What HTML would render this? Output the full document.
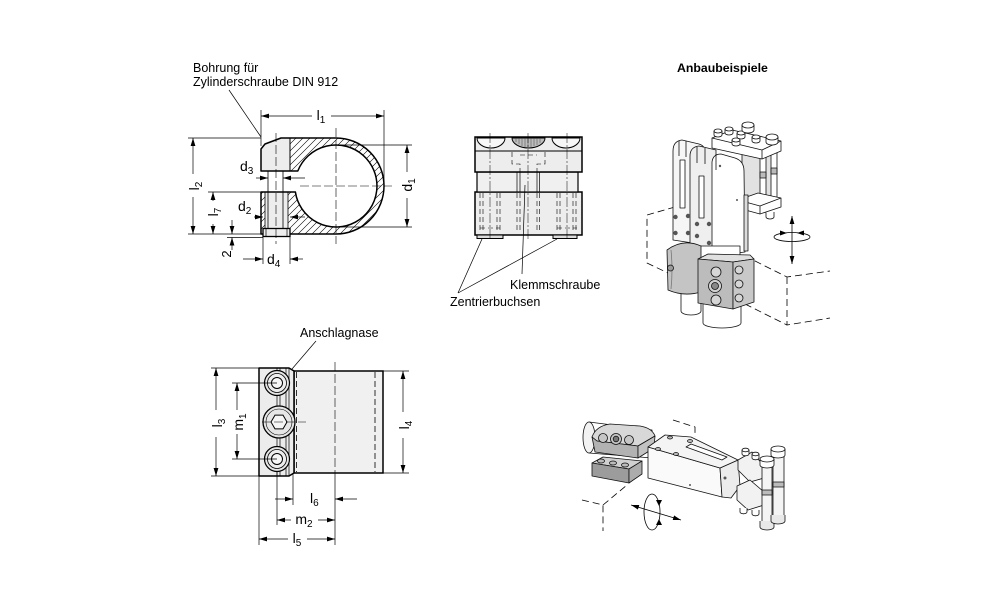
<!DOCTYPE html>
<html><head><meta charset="utf-8"><style>
html,body{margin:0;padding:0;background:#fff;}
svg{display:block;}
text{font-family:"Liberation Sans",Arial,sans-serif;fill:#000;}
</style></head><body>
<svg width="1000" height="611" viewBox="0 0 1000 611" xmlns="http://www.w3.org/2000/svg">
<defs>
<pattern id="hatch" patternUnits="userSpaceOnUse" width="7" height="7">
<path d="M0,7 L7,0 M-2,2 L2,-2 M5,9 L9,5" stroke="#000" stroke-width="0.6"/>
</pattern>
<marker id="ar" viewBox="0 0 10 6" refX="10" refY="3" markerWidth="8" markerHeight="4.8" markerUnits="userSpaceOnUse" orient="auto-start-reverse">
<path d="M0,0 L10,3 L0,6 z" fill="#000"/>
</marker>
</defs>
<rect width="1000" height="611" fill="#fff"/>

<!-- ================= Drawing 1 ================= -->
<text x="193" y="72" font-size="12.5">Bohrung für</text>
<text x="193" y="86" font-size="12.5">Zylinderschraube DIN 912</text>
<line x1="229" y1="90" x2="261" y2="137" stroke="#000" stroke-width="0.7"/>

<path d="M261,149 L265,144 L281,138 L336,138 A48,48 0 0 1 336,234 L261,234 L261,192 L295.4,192 A41,41 0 1 0 297.8,171 L261,171 Z" fill="url(#hatch)"/>
<path d="M261,149 L265,144 L281,138 L290,138 L290,171 L261,171 Z" fill="#ededed"/>
<rect x="265" y="192" width="23" height="37" fill="#ededed"/>
<path d="M261,149 L265,144 L281,138 L336,138 A48,48 0 0 1 336,234 L261,234 L261,192 L295.4,192 A41,41 0 1 0 297.8,171 L261,171 Z" fill="none" stroke="#000" stroke-width="1.5" stroke-linejoin="round"/>
<g stroke="#000" stroke-width="0.8">
<line x1="290" y1="138" x2="290" y2="171" stroke-width="1"/>
<line x1="268" y1="171" x2="268" y2="229"/>
<line x1="283" y1="171" x2="283" y2="229"/>
<line x1="265" y1="192" x2="265" y2="229"/>
<line x1="288" y1="192" x2="288" y2="229"/>
</g>
<rect x="263" y="228.5" width="27" height="8" fill="#ededed" stroke="#000" stroke-width="1.3"/>
<g stroke="#000" stroke-width="0.7">
<line x1="266" y1="229" x2="266" y2="236"/>
<line x1="287" y1="229" x2="287" y2="236"/>
</g>
<g stroke="#000" stroke-width="0.6" stroke-dasharray="9,3" fill="none">
<line x1="276" y1="133" x2="276" y2="244"/>
<line x1="336" y1="128" x2="336" y2="244"/>
<line x1="300" y1="186" x2="392" y2="186"/>
</g>
<g stroke="#000" stroke-width="0.7" fill="none">
<line x1="261" y1="110" x2="261" y2="146"/>
<line x1="384" y1="110" x2="384" y2="186"/>
<line x1="261" y1="116" x2="312" y2="116" marker-start="url(#ar)"/>
<line x1="331" y1="116" x2="384" y2="116" marker-end="url(#ar)"/>
<line x1="188" y1="138" x2="261" y2="138"/>
<line x1="188" y1="234" x2="261" y2="234"/>
<line x1="208" y1="192" x2="261" y2="192"/>
<line x1="227" y1="237.5" x2="263" y2="237.5"/>
<line x1="193" y1="138" x2="193" y2="174" marker-start="url(#ar)"/>
<line x1="193" y1="197" x2="193" y2="234" marker-end="url(#ar)"/>
<line x1="213" y1="192" x2="213" y2="201" marker-start="url(#ar)"/>
<line x1="213" y1="224" x2="213" y2="234" marker-end="url(#ar)"/>
<line x1="232" y1="220" x2="232" y2="234" marker-end="url(#ar)"/>
<line x1="232" y1="250" x2="232" y2="237.5" marker-end="url(#ar)"/>
<line x1="263" y1="237" x2="263" y2="264"/>
<line x1="290" y1="237" x2="290" y2="264"/>
<line x1="243" y1="259" x2="263" y2="259" marker-end="url(#ar)"/>
<line x1="303" y1="259" x2="290" y2="259" marker-end="url(#ar)"/>
<line x1="256" y1="178" x2="268" y2="178" marker-end="url(#ar)"/>
<line x1="305" y1="178" x2="283" y2="178" marker-end="url(#ar)"/>
<line x1="254" y1="217" x2="263" y2="217" marker-end="url(#ar)"/>
<line x1="305" y1="217" x2="290" y2="217" marker-end="url(#ar)"/>
<line x1="338" y1="145" x2="412" y2="145"/>
<line x1="338" y1="227" x2="412" y2="227"/>
<line x1="407" y1="145" x2="407" y2="172" marker-start="url(#ar)"/>
<line x1="407" y1="198" x2="407" y2="227" marker-end="url(#ar)"/>
</g>
<text x="321" y="120" font-size="14" text-anchor="middle">l<tspan dy="3" font-size="10">1</tspan></text>
<text transform="translate(199,186) rotate(-90)" font-size="14" text-anchor="middle">l<tspan dy="3" font-size="10">2</tspan></text>
<text transform="translate(218,212) rotate(-90)" font-size="14" text-anchor="middle">l<tspan dy="3" font-size="10">7</tspan></text>
<text transform="translate(231,254) rotate(-90)" font-size="13" text-anchor="middle">2</text>
<text transform="translate(412,185) rotate(-90)" font-size="14" text-anchor="middle">d<tspan dy="3" font-size="10">1</tspan></text>
<text x="240" y="171" font-size="14">d<tspan dy="3" font-size="10">3</tspan></text>
<text x="238" y="211" font-size="14">d<tspan dy="3" font-size="10">2</tspan></text>
<text x="267" y="264" font-size="14">d<tspan dy="3" font-size="10">4</tspan></text>

<!-- ================= Drawing 2 ================= -->
<text x="300" y="337" font-size="12.5">Anschlagnase</text>
<line x1="316" y1="341" x2="292" y2="369" stroke="#000" stroke-width="0.7"/>
<rect x="294" y="371" width="89" height="102" fill="#f0f0f0" stroke="#000" stroke-width="1.5"/>
<path d="M259,368 L289,368 L294,371 L294,473 L289,476 L259,476 Z" fill="#ececec" stroke="#000" stroke-width="1.5" stroke-linejoin="round"/>
<g stroke="#000" stroke-width="0.7" fill="none">
<line x1="286" y1="368" x2="286" y2="476"/>
<line x1="289" y1="368" x2="289" y2="476"/>
<line x1="277" y1="368" x2="277" y2="476"/>
<line x1="280" y1="368" x2="280" y2="476"/>
</g>
<g stroke="#000" stroke-width="0.8" stroke-dasharray="6,3" fill="none">
<line x1="296.5" y1="372" x2="296.5" y2="472"/>
<line x1="375" y1="372" x2="375" y2="472"/>
</g>
<g stroke="#000">
<circle cx="277" cy="383" r="12.5" fill="#e6e6e6" stroke-width="1.2"/>
<circle cx="277" cy="383" r="9.5" fill="#ededed" stroke-width="0.8"/>
<circle cx="277" cy="383" r="5.5" fill="#f7f7f7" stroke-width="1"/>
<circle cx="277" cy="459" r="12.5" fill="#e6e6e6" stroke-width="1.2"/>
<circle cx="277" cy="459" r="9.5" fill="#ededed" stroke-width="0.8"/>
<circle cx="277" cy="459" r="5.5" fill="#f7f7f7" stroke-width="1"/>
<circle cx="279" cy="422" r="16" fill="#e6e6e6" stroke-width="1.3"/>
<circle cx="279" cy="422" r="13" fill="none" stroke-width="0.6"/>
<polygon points="287,422 283,415.1 275,415.1 271,422 275,428.9 283,428.9" fill="#f5f5f5" stroke-width="1"/>
</g>
<g stroke="#000" stroke-width="0.6" stroke-dasharray="9,3" fill="none">
<line x1="262" y1="422" x2="306" y2="422"/>
<line x1="335" y1="362" x2="335" y2="474"/>
</g>
<g stroke="#000" stroke-width="0.7" fill="none">
<line x1="211" y1="368" x2="259" y2="368"/>
<line x1="211" y1="476" x2="259" y2="476"/>
<line x1="216" y1="368" x2="216" y2="410" marker-start="url(#ar)"/>
<line x1="216" y1="437" x2="216" y2="476" marker-end="url(#ar)"/>
<line x1="232" y1="383" x2="277" y2="383"/>
<line x1="232" y1="459" x2="277" y2="459"/>
<line x1="237" y1="383" x2="237" y2="410" marker-start="url(#ar)"/>
<line x1="237" y1="434" x2="237" y2="459" marker-end="url(#ar)"/>
<line x1="383" y1="371" x2="409" y2="371"/>
<line x1="383" y1="473" x2="409" y2="473"/>
<line x1="403" y1="371" x2="403" y2="412" marker-start="url(#ar)"/>
<line x1="403" y1="438" x2="403" y2="473" marker-end="url(#ar)"/>
<line x1="259" y1="476" x2="259" y2="545"/>
<line x1="277" y1="471" x2="277" y2="525"/>
<line x1="293" y1="474" x2="293" y2="505"/>
<line x1="335" y1="474" x2="335" y2="545"/>
<line x1="275" y1="499" x2="293" y2="499" marker-end="url(#ar)"/>
<line x1="357" y1="499" x2="335" y2="499" marker-end="url(#ar)"/>
<line x1="277" y1="520" x2="291" y2="520" marker-start="url(#ar)"/>
<line x1="318" y1="520" x2="335" y2="520" marker-end="url(#ar)"/>
<line x1="259" y1="539" x2="288" y2="539" marker-start="url(#ar)"/>
<line x1="307" y1="539" x2="335" y2="539" marker-end="url(#ar)"/>
</g>
<text transform="translate(222,423) rotate(-90)" font-size="14" text-anchor="middle">l<tspan dy="3" font-size="10">3</tspan></text>
<text transform="translate(243,422) rotate(-90)" font-size="14" text-anchor="middle">m<tspan dy="3" font-size="10">1</tspan></text>
<text transform="translate(409,425) rotate(-90)" font-size="14" text-anchor="middle">l<tspan dy="3" font-size="10">4</tspan></text>
<text x="310" y="503" font-size="14">l<tspan dy="3" font-size="10">6</tspan></text>
<text x="304" y="524" font-size="14" text-anchor="middle">m<tspan dy="3" font-size="10">2</tspan></text>
<text x="297" y="543" font-size="14" text-anchor="middle">l<tspan dy="3" font-size="10">5</tspan></text>

<!-- ================= Drawing 3 ================= -->
<rect x="475" y="192" width="107" height="43" fill="#ededed" stroke="#000" stroke-width="1.5"/>
<rect x="477" y="172" width="101" height="20" fill="#f0f0f0" stroke="#000" stroke-width="1.2"/>
<rect x="475" y="137" width="107" height="35" fill="#ededed" stroke="#000" stroke-width="1.5"/>
<line x1="475" y1="151" x2="582" y2="151" stroke="#000" stroke-width="1"/>
<g stroke="#000" stroke-width="1" fill="#f7f7f7">
<path d="M477,138 A14,10 0 0 0 505,138 Z"/>
<path d="M552,138 A14,10 0 0 0 580,138 Z"/>
<path d="M512,138 A16.5,10 0 0 0 545,138 Z" fill="#bdbdbd"/>
</g>
<g stroke="#444" stroke-width="0.5">
<line x1="516" y1="138" x2="516" y2="142"/><line x1="519" y1="138" x2="519" y2="144"/><line x1="522" y1="138" x2="522" y2="146"/><line x1="525" y1="138" x2="525" y2="147"/><line x1="528" y1="138" x2="528" y2="147"/><line x1="531" y1="138" x2="531" y2="147"/><line x1="534" y1="138" x2="534" y2="146"/><line x1="537" y1="138" x2="537" y2="145"/><line x1="540" y1="138" x2="540" y2="143"/>
</g>
<rect x="477" y="235" width="26" height="3.5" fill="#ddd" stroke="#000" stroke-width="1"/>
<rect x="553" y="235" width="24" height="3.5" fill="#ddd" stroke="#000" stroke-width="1"/>
<g stroke="#000" stroke-width="0.7" fill="none">
<line x1="517" y1="172" x2="517" y2="192"/>
<line x1="520" y1="172" x2="520" y2="192"/>
<line x1="537" y1="172" x2="537" y2="192"/>
<line x1="539.5" y1="172" x2="539.5" y2="192"/>
</g>
<g stroke="#000" stroke-width="0.6" stroke-dasharray="5,3" fill="none">
<line x1="480" y1="193" x2="480" y2="233"/>
<line x1="483" y1="193" x2="483" y2="233"/>
<line x1="497" y1="193" x2="497" y2="233"/>
<line x1="500" y1="193" x2="500" y2="233"/>
<line x1="557" y1="193" x2="557" y2="233"/>
<line x1="560" y1="193" x2="560" y2="233"/>
<line x1="573" y1="193" x2="573" y2="233"/>
<line x1="576" y1="193" x2="576" y2="233"/>
<line x1="517" y1="193" x2="517" y2="233"/>
<line x1="520" y1="193" x2="520" y2="233"/>
<line x1="537" y1="193" x2="537" y2="233"/>
<line x1="539.5" y1="193" x2="539.5" y2="233"/>
<line x1="480" y1="228" x2="500" y2="228"/>
<line x1="557" y1="228" x2="577" y2="228"/>
<path d="M512,152 L512,164 L520,164 L520,172 M545,152 L545,164 L537,164 L537,172"/>
<path d="M520,155 L537,155"/>
</g>
<g stroke="#000" stroke-width="0.5" stroke-dasharray="10,2,2,2" fill="none">
<line x1="490" y1="133" x2="490" y2="241"/>
<line x1="567" y1="133" x2="567" y2="241"/>
<line x1="528" y1="133" x2="528" y2="241"/>
</g>
<g stroke="#000" stroke-width="0.7" fill="none">
<line x1="522" y1="274" x2="525" y2="185"/>
<line x1="458" y1="293" x2="482" y2="239"/>
<line x1="458" y1="293" x2="557" y2="239"/>
</g>
<text x="510" y="289" font-size="12.5">Klemmschraube</text>
<text x="450" y="306" font-size="12.5">Zentrierbuchsen</text>

<!-- ================= Anbaubeispiele ================= -->
<text x="677" y="72" font-size="12.3" font-weight="bold">Anbaubeispiele</text>

<!-- 3D object 1 -->
<g fill="none" stroke="#000" stroke-width="0.8" stroke-dasharray="7,4">
<path d="M675,207 L647,215 L647,263 L668,273"/>
<path d="M745,256 L787,277 L830,271"/>
<path d="M787,277 L787,325 L830,318"/>
<path d="M745,304 L787,325"/>
</g>
<g stroke="#111" stroke-width="0.8" fill="#fff" stroke-linejoin="round">
<rect x="742" y="152" width="30" height="48" fill="#e2e2e2"/>
<rect x="760" y="148" width="6" height="60"/>
<rect x="771" y="144" width="6" height="60"/>
<rect x="760" y="172" width="6" height="6" fill="#bbb"/>
<rect x="771" y="168" width="6" height="6" fill="#bbb"/>
<path d="M738,200 L758,193 L781,198 L781,207 L760,214 L738,208 Z"/>
<path d="M738,200 L760,206 L781,198 M760,206 L760,214" fill="none"/>
<path d="M766,212 L766,217 A4,2 0 0 0 774,217 L774,212" />
<path d="M712,138 L732,130 L781,141 L781,151 L762,159 L712,148 Z"/>
<path d="M712,138 L762,150 L781,141 M762,150 L762,159" fill="none"/>
<path d="M714,131 L714,135 A4,2 0 0 0 722,135 L722,131"/><ellipse cx="718" cy="131" rx="4" ry="2"/>
<path d="M725,129 L725,133 A4,2 0 0 0 733,133 L733,129"/><ellipse cx="729" cy="129" rx="4" ry="2"/>
<path d="M737,133 L737,137 A4,2 0 0 0 745,137 L745,133"/><ellipse cx="741" cy="133" rx="4" ry="2"/>
<path d="M732,140 L732,144 A4,2 0 0 0 740,144 L740,140"/><ellipse cx="736" cy="140" rx="4" ry="2"/>
<path d="M752,137 L752,141 A4,2 0 0 0 760,141 L760,137"/><ellipse cx="756" cy="137" rx="4" ry="2"/>
<path d="M742,125 L742,130 A6,3 0 0 0 754,130 L754,125"/><ellipse cx="748" cy="125" rx="6" ry="3"/>
<path d="M766,137 L766,142 A6,3 0 0 0 778,142 L778,137"/><ellipse cx="772" cy="137" rx="6" ry="3"/>
<!-- plate A -->
<path d="M673,240 L673,151 Q673,141 682,140 L699,144 Q706,146 706,155 L706,245 Z" fill="#f6f6f6"/>
<path d="M679,141 L679,156 M686,141 L686,157" fill="none"/>
<rect x="680" y="160" width="5" height="48"/>
<!-- plate B -->
<path d="M690,250 L690,156 Q690,147 699,146 L716,150 L716,256 Z" fill="#efefef"/>
<path d="M697,147 L697,163 M705,148 L705,164" fill="none"/>
<rect x="699" y="176" width="5" height="42"/>
<!-- front face -->
<path d="M712,256 L712,162 Q713,154 721,154 L735,158 Q744,161 744,171 L745,252 Z"/>
<path d="M716,154 L716,170" fill="none"/>
<rect x="744" y="195" width="4" height="56" fill="#dcdcdc"/>
</g>
<g fill="#555">
<circle cx="675.5" cy="217" r="2.2"/><circle cx="675.5" cy="233" r="2.2"/>
<circle cx="688" cy="216" r="2.2"/><circle cx="688" cy="233" r="2.2"/>
<circle cx="697" cy="224" r="2.2"/><circle cx="697" cy="236" r="2.2"/>
<circle cx="709" cy="224" r="2.2"/><circle cx="709" cy="243" r="2.2"/>
<circle cx="720" cy="166" r="1.2"/><circle cx="737" cy="200" r="1"/>
</g>
<g stroke="#111" stroke-width="0.8" fill="#fff" stroke-linejoin="round">
<rect x="700" y="246" width="40" height="16"/>
<path d="M681,286 L681,311 A10,4 0 0 0 701,311 L701,288"/>
<path d="M703,300 L703,323 A19,5 0 0 0 741,323 L741,300"/>
<path d="M667,250 Q683,238 701,246 L701,292 Q684,297 668,290 Z" fill="#c4c4c4"/>
<path d="M671,250 Q673,270 671,289" fill="none" stroke="#777"/>
<circle cx="670.5" cy="268" r="3" fill="#9a9a9a"/>
<path d="M698,259 L708,254 L750,255 L754,259 L733,262 Z" fill="#e0e0e0"/>
<path d="M698,259 L733,262 L733,309 L698,303 Z" fill="#bcbcbc"/>
<path d="M733,262 L754,259 L754,302 L733,309 Z" fill="#c8c8c8"/>
<circle cx="716" cy="272" r="5" fill="#d6d6d6"/>
<circle cx="715" cy="286" r="6.5" fill="#d0d0d0"/>
<circle cx="715" cy="286" r="3.5" fill="#888"/>
<circle cx="716" cy="300" r="5" fill="#d6d6d6"/>
<circle cx="739" cy="270" r="4" fill="#d6d6d6"/>
<circle cx="739" cy="284" r="4" fill="#d6d6d6"/>
<circle cx="739" cy="298" r="4" fill="#d6d6d6"/>
</g>
<g stroke="#000" stroke-width="0.8" fill="none">
<line x1="792" y1="216" x2="792" y2="264" marker-start="url(#ar)" marker-end="url(#ar)"/>
<ellipse cx="792" cy="237" rx="18" ry="4.5"/>
</g>
<path d="M780,230.5 L787,233 L780,235.5 Z M804,230.5 L797,233 L804,235.5 Z" fill="#000"/>

<!-- 3D object 2 -->
<g fill="none" stroke="#000" stroke-width="0.8" stroke-dasharray="7,4">
<path d="M673,420 L695,427 L695,437"/>
<path d="M582,500 L603,505 L603,531"/>
<path d="M603,505 L627,485"/>
</g>
<g stroke="#111" stroke-width="0.8" fill="#fff" stroke-linejoin="round">
<path d="M589,422 L652,430 L652,458 L589,453 Z"/>
<ellipse cx="589" cy="437.5" rx="6" ry="15.5" fill="#f2f2f2"/>
<path d="M592,437 Q596,426 610,424 L640,426 Q652,428 655,436 L638,446 L597,441 Z" fill="#d8d8d8"/>
<path d="M592,437 L597,441 L638,446 L638,458 L595,452 Z" fill="#b2b2b2"/>
<path d="M638,446 L655,436 L654,448 L638,458 Z" fill="#c2c2c2"/>
<circle cx="603" cy="438" r="4.5" fill="#c6c6c6"/>
<circle cx="616" cy="439" r="5.5" fill="#c6c6c6"/>
<circle cx="616" cy="439" r="2.8" fill="#777"/>
<circle cx="629" cy="440" r="4.5" fill="#c6c6c6"/>
<path d="M592,463 L603,457 L642,461 L629,469 Z" fill="#d0d0d0"/>
<path d="M592,463 L629,469 L629,483 L592,476 Z" fill="#9c9c9c"/>
<path d="M629,469 L642,461 L642,474 L629,483 Z" fill="#acacac"/>
<ellipse cx="601" cy="461" rx="3.5" ry="2" fill="#bbb"/>
<ellipse cx="613" cy="463" rx="3.5" ry="2" fill="#bbb"/>
<ellipse cx="625" cy="465" rx="3.5" ry="2" fill="#bbb"/>
<path d="M648,447 L720,468 L722,497 L648,478 Z" fill="#fafafa"/>
<path d="M720,468 L738,460 L740,486 L731,498 L722,497 Z" fill="#ececec"/>
<path d="M648,447 L665,435 L691,437 L738,460 L720,468 Z" fill="#f4f4f4"/>
<path d="M686,447 L691,444 L727,457 L722,460 Z"/>
<ellipse cx="670" cy="437.5" rx="2.5" ry="1.5" fill="#bbb"/>
<ellipse cx="690" cy="441" rx="2.5" ry="1.5" fill="#bbb"/>
<ellipse cx="658" cy="449" rx="2.5" ry="1.5" fill="#bbb"/>
<ellipse cx="676" cy="454" rx="2.5" ry="1.5" fill="#bbb"/>
<path d="M738,460 L752,452 L764,466 L764,478 L750,482 L738,470 Z" fill="#f2f2f2"/>
<path d="M737,486 L750,480 L764,492 L764,505 L748,510 L737,500 Z" fill="#f2f2f2"/>
<rect x="762" y="462" width="10" height="64" fill="#f4f4f4"/>
<rect x="773" y="452" width="11" height="68" fill="#f4f4f4"/>
<rect x="762" y="490" width="10" height="5" fill="#bbb"/>
<rect x="773" y="482" width="11" height="5" fill="#bbb"/>
<path d="M760,459 L760,465 A7,3 0 0 0 774,465 L774,459"/><ellipse cx="767" cy="459" rx="7" ry="3"/>
<path d="M771,449 L771,455 A7,3 0 0 0 785,455 L785,449"/><ellipse cx="778" cy="449" rx="7" ry="3"/>
<path d="M760,521 L760,527 A7,3 0 0 0 774,527 L774,521" fill="#e8e8e8"/>
<path d="M771,515 L771,521 A7,3 0 0 0 785,521 L785,515" fill="#e8e8e8"/>
<path d="M742,450 L742,454 A3.5,1.8 0 0 0 749,454 L749,450"/><ellipse cx="745.5" cy="450" rx="3.5" ry="1.8"/>
<path d="M752,454 L752,458 A3.5,1.8 0 0 0 759,458 L759,454"/><ellipse cx="755.5" cy="454" rx="3.5" ry="1.8"/>
<path d="M740,508 L740,512 A3.5,1.8 0 0 0 747,512 L747,508"/>
<path d="M752,510 L752,514 A3.5,1.8 0 0 0 759,514 L759,510"/>
</g>
<g fill="#555"><circle cx="690" cy="485" r="1"/><circle cx="725" cy="478" r="1.5"/></g>
<g stroke="#000" stroke-width="0.8" fill="none">
<line x1="631" y1="505" x2="681" y2="520" marker-start="url(#ar)" marker-end="url(#ar)"/>
<ellipse cx="652" cy="512" rx="8" ry="18"/>
</g>
<path d="M656,500 L659,506 L662,500 Z M656,525 L659,519 L662,525 Z" fill="#000"/>
</svg>
</body></html>
